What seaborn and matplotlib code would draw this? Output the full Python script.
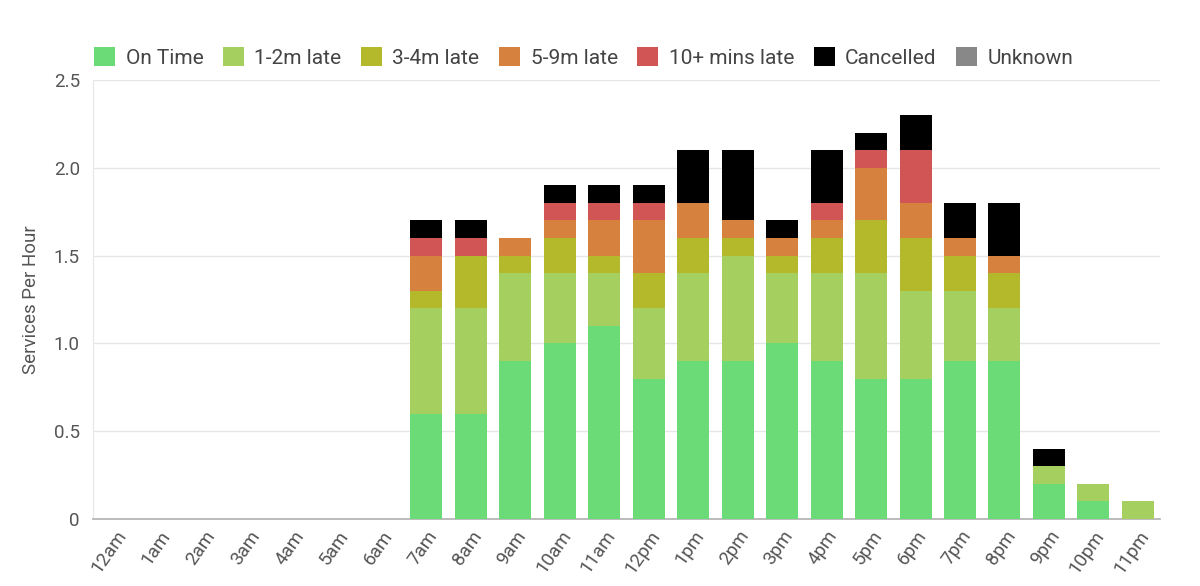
import numpy as np
import matplotlib
matplotlib.use('Agg')
import matplotlib.pyplot as plt
import seaborn as sns
from matplotlib.patches import Patch

hours = ['12am', '1am', '2am', '3am', '4am', '5am', '6am', '7am', '8am', '9am', '10am', '11am',
         '12pm', '1pm', '2pm', '3pm', '4pm', '5pm', '6pm', '7pm', '8pm', '9pm', '10pm', '11pm']

# services per hour by status (one value per hour)
on_time    = [0, 0, 0, 0, 0, 0, 0, 0.6, 0.6, 0.9, 1.0, 1.1, 0.8, 0.9, 0.9, 1.0, 0.9, 0.8, 0.8, 0.9, 0.9, 0.2, 0.1, 0]
late_1_2   = [0, 0, 0, 0, 0, 0, 0, 0.6, 0.6, 0.5, 0.4, 0.3, 0.4, 0.5, 0.6, 0.4, 0.5, 0.6, 0.5, 0.4, 0.3, 0.1, 0.1, 0.1]
late_3_4   = [0, 0, 0, 0, 0, 0, 0, 0.1, 0.3, 0.1, 0.2, 0.1, 0.2, 0.2, 0.1, 0.1, 0.2, 0.3, 0.3, 0.2, 0.2, 0, 0, 0]
late_5_9   = [0, 0, 0, 0, 0, 0, 0, 0.2, 0, 0.1, 0.1, 0.2, 0.3, 0.2, 0.1, 0.1, 0.1, 0.3, 0.2, 0.1, 0.1, 0, 0, 0]
late_10    = [0, 0, 0, 0, 0, 0, 0, 0.1, 0.1, 0, 0.1, 0.1, 0.1, 0, 0, 0, 0.1, 0.1, 0.3, 0, 0, 0, 0, 0]
cancelled  = [0, 0, 0, 0, 0, 0, 0, 0.1, 0.1, 0, 0.1, 0.1, 0.1, 0.3, 0.4, 0.1, 0.3, 0.1, 0.2, 0.2, 0.3, 0.1, 0, 0]
unknown    = [0] * 24

series_names = ['On Time', '1-2m late', '3-4m late', '5-9m late', '10+ mins late', 'Cancelled', 'Unknown']
series_vals = [on_time, late_1_2, late_3_4, late_5_9, late_10, cancelled, unknown]
colors = ['#6bdb77', '#a5cf5e', '#b4b92b', '#d6823e', '#d25555', '#000000', '#888888']

sns.set_style('white')
plt.rcParams['font.family'] = ['Roboto', 'DejaVu Sans']

fig = plt.figure(figsize=(12, 5.86), dpi=100)
ax = fig.add_axes([0.0775, 0.1143, 0.8892, 0.7492])

bottom = np.zeros(len(hours))
for name, vals, c in zip(series_names, series_vals, colors):
    vals = np.array(vals, dtype=float)
    sns.barplot(x=hours, y=vals, bottom=bottom, color=c, width=0.72, errorbar=None,
                saturation=1, ax=ax, zorder=3, linewidth=0)
    bottom += vals

ax.set_xlim(-0.5, 23.5)
ax.set_ylim(0, 2.5)
ax.set_yticks([0, 0.5, 1.0, 1.5, 2.0, 2.5])
ax.set_yticklabels(['0', '0.5', '1.0', '1.5', '2.0', '2.5'])
ax.yaxis.grid(True, color='#e6e6e6', linewidth=1, zorder=0)
ax.set_axisbelow(True)

for s in ['top', 'right']:
    ax.spines[s].set_visible(False)
ax.spines['left'].set_color('#e6e6e6')
ax.spines['bottom'].set_color('#b0b0b0')
ax.spines['bottom'].set_linewidth(1.2)

ax.tick_params(axis='y', length=6, color='#cccccc', labelsize=13.5, labelcolor='#555555')
ax.tick_params(axis='x', length=0, labelsize=13.5, labelcolor='#555555', pad=6)
plt.setp(ax.get_xticklabels(), rotation=55, ha='right', rotation_mode='anchor')

ax.set_xlabel('')
ax.set_ylabel('Services Per Hour', fontsize=13.5, color='#555555', labelpad=10)

handles = [Patch(facecolor=c, edgecolor='none') for c in colors]
ax.legend(handles, series_names, loc='lower center', bbox_to_anchor=(0.46, 0.985), ncol=7,
          frameon=False, fontsize=15, handlelength=1.0, handleheight=1.0,
          handletextpad=0.5, columnspacing=0.95, labelcolor='#444444')

fig.savefig('out.png', dpi=100)
